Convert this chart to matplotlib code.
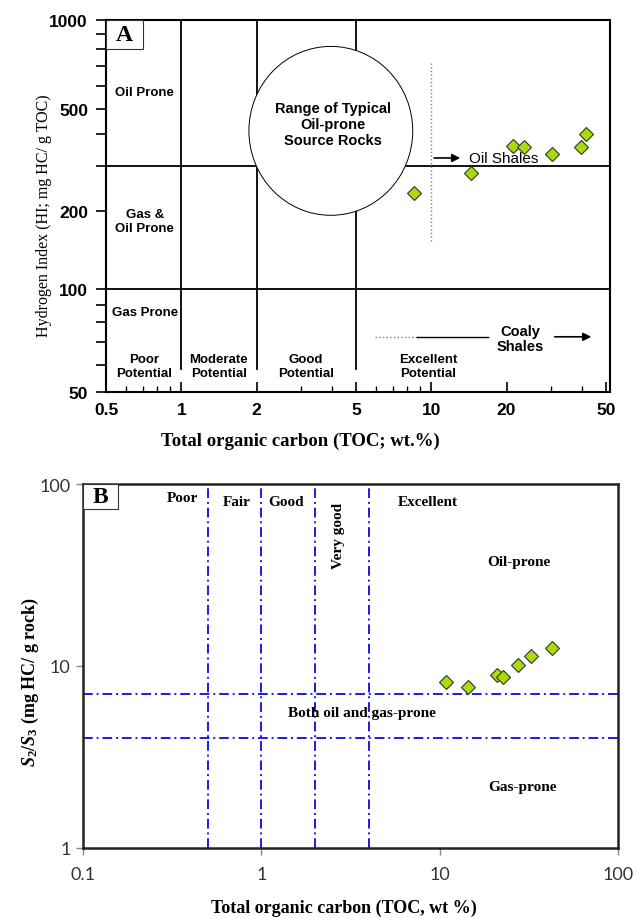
import matplotlib

matplotlib.use('Agg')
import matplotlib.pyplot as plt
import numpy as np
from matplotlib.patches import Ellipse, Rectangle
from matplotlib.ticker import FixedLocator, NullFormatter, FuncFormatter

# panel A: HI vs TOC
toc_a = [8.5, 14.4, 21.3, 23.6, 30.4, 39.8, 41.5]
hi_a = [236, 281, 359, 355, 333, 354, 401]
a_xticks = [0.5, 1, 2, 5, 10, 20, 50]
a_yticks = [50, 100, 200, 500, 1000]

# panel B: S2/S3 vs TOC
toc_b = [10.8, 14.5, 20.9, 22.6, 27.4, 32.7, 42.7]
s2s3_b = [8.15, 7.65, 8.9, 8.68, 10.1, 11.3, 12.6]
b_xticks = [0.1, 1, 10, 100]
b_yticks = [1, 10, 100]
b_vlines = [0.5, 1, 2, 4]
b_hlines = [7, 4]

plt.rcParams['mathtext.fontset'] = 'custom'
plt.rcParams['mathtext.rm'] = 'Liberation Serif:bold'
plt.rcParams['mathtext.it'] = 'Liberation Serif:italic:bold'

SANS = 'Liberation Sans'
SERIF = 'Liberation Serif'
green = '#a8dc0e'

fig = plt.figure(figsize=(6.36, 9.2), dpi=100)

# ---------------- panel A ----------------
ax = fig.add_axes([0.1667, 0.5728, 0.7925, 0.4044])

# the printed HI axis is not evenly logarithmic, follow its spacing
hl = np.log10([50, 100, 200, 500, 1000])
hp = np.array([0, 103, 181, 283, 372]) / 372.0


def fwd(y):
    return np.interp(np.log10(np.clip(y, 1e-3, None)), hl, hp, left=-1, right=2)


def inv(v):
    return 10 ** np.interp(v, hp, hl)


ax.set_xscale('log')
ax.set_yscale('function', functions=(fwd, inv))
ax.set_xlim(0.5, 51.9)
ax.set_ylim(50, 1000)

ax.axhline(300, color='k', lw=1.3, zorder=1)
ax.axhline(100, color='k', lw=1.3, zorder=1)
for v in [1, 2, 5]:
    ax.axvline(v, ymin=0.062, ymax=1, color='k', lw=1.3, zorder=1)

ax.add_patch(Ellipse((0.446, 0.702), 0.325, 0.454, transform=ax.transAxes,
                     facecolor='white', edgecolor='k', lw=0.7, zorder=2))
ax.text(0.450, 0.72, 'Range of Typical\nOil-prone\nSource Rocks', transform=ax.transAxes,
        ha='center', va='center', fontsize=10.5, fontweight='bold', family=SANS,
        linespacing=1.2, zorder=3)

ax.axvline(10, ymin=0.406, ymax=0.890, color='grey', lw=1, ls=':', zorder=1)
ax.annotate('', xy=(13.4, 322), xytext=(10, 322),
            arrowprops=dict(arrowstyle='-|>', color='k', lw=1.2, mutation_scale=12))
ax.text(14.1, 322, 'Oil Shales', ha='left', va='center', fontsize=11, family=SANS, zorder=5)

ax.plot([5.95, 8.76], [72.5, 72.5], color='grey', lw=1, ls=':')
ax.plot([8.76, 16.8], [72.5, 72.5], color='k', lw=1)
ax.annotate('', xy=(44.8, 72.5), xytext=(30.4, 72.5),
            arrowprops=dict(arrowstyle='-|>', color='k', lw=1.2, mutation_scale=12))
ax.text(0.821, 0.145, 'Coaly\nShales', transform=ax.transAxes, ha='center', va='center',
        fontsize=10.5, fontweight='bold', family=SANS, linespacing=1.1)

labels_a = [
    ('Oil Prone', 0.077, 0.806),
    ('Gas &\nOil Prone', 0.077, 0.46),
    ('Gas Prone', 0.077, 0.215),
    ('Poor\nPotential', 0.075, 0.070),
    ('Moderate\nPotential', 0.224, 0.070),
    ('Good\nPotential', 0.397, 0.070),
    ('Excellent\nPotential', 0.639, 0.070),
]
for s, x, y in labels_a:
    ax.text(x, y, s, transform=ax.transAxes, ha='center', va='center', fontsize=9.5,
            fontweight='bold', family=SANS, linespacing=1.15)

ax.plot(toc_a, hi_a, 'D', ms=7, mfc=green, mec='#333333', mew=0.8, zorder=6)

ax.add_patch(Rectangle((0, 0.922), 0.073, 0.078, transform=ax.transAxes,
                       facecolor='white', edgecolor='#333333', lw=0.8, zorder=7))
ax.text(0.0365, 0.961, 'A', transform=ax.transAxes, ha='center', va='center',
        fontsize=17, fontweight='bold', family=SERIF, zorder=8)

ax.xaxis.set_major_locator(FixedLocator(a_xticks))
ax.xaxis.set_major_formatter(FuncFormatter(lambda v, p: '%g' % v))
ax.xaxis.set_minor_locator(FixedLocator([0.6, 0.7, 0.8, 0.9, 3, 4, 6, 7, 8, 9, 30, 40]))
ax.xaxis.set_minor_formatter(NullFormatter())
ax.yaxis.set_major_locator(FixedLocator(a_yticks))
ax.yaxis.set_major_formatter(FuncFormatter(lambda v, p: '%g' % v))
ax.yaxis.set_minor_locator(FixedLocator([60, 70, 80, 90, 300, 400, 600, 700, 800, 900]))
ax.yaxis.set_minor_formatter(NullFormatter())
ax.tick_params(axis='x', which='major', direction='in', length=7, width=1.2, pad=7)
ax.tick_params(axis='x', which='minor', direction='in', length=4, width=1)
ax.tick_params(axis='y', which='both', direction='out', length=7, width=1.2, pad=6)
for t in ax.get_xticklabels() + ax.get_yticklabels():
    t.set_fontfamily(SANS)
    t.set_fontweight('bold')
    t.set_fontsize(12.5)
for sp in ax.spines.values():
    sp.set_linewidth(1.5)

ax.set_xlabel('Total organic carbon (TOC; wt.%)', family=SERIF, fontweight='bold', fontsize=13.5)
ax.xaxis.set_label_coords(0.385, -0.106)
ax.set_ylabel('Hydrogen Index (HI; mg HC/ g TOC)', family=SERIF, fontsize=11.5)
ax.yaxis.set_label_coords(-0.108, 0.476)

# ---------------- panel B ----------------
bx = fig.add_axes([0.1305, 0.0772, 0.8412, 0.3956])
bx.set_xscale('log')
bx.set_yscale('log')
bx.set_xlim(0.1, 100)
bx.set_ylim(1, 100)

blue = '#1a1ae6'
for v in b_vlines:
    bx.axvline(v, color=blue, lw=1.4, ls=(0, (5, 2, 1, 2)), zorder=1)
for h in b_hlines:
    bx.axhline(h, color=blue, lw=1.4, ls=(0, (5, 2, 1, 2)), zorder=1)

labels_b = [
    ('Poor', 0.185, 0.964, 0),
    ('Fair', 0.288, 0.951, 0),
    ('Good', 0.379, 0.951, 0),
    ('Very good', 0.477, 0.860, 90),
    ('Excellent', 0.645, 0.951, 0),
    ('Oil-prone', 0.815, 0.786, 0),
    ('Both oil and gas-prone', 0.521, 0.371, 0),
    ('Gas-prone', 0.821, 0.168, 0),
]
for s, x, y, r in labels_b:
    bx.text(x, y, s, transform=bx.transAxes, ha='center', va='center', fontsize=11,
            fontweight='bold', family=SERIF, rotation=r)

bx.plot(toc_b, s2s3_b, 'D', ms=7, mfc=green, mec='#333333', mew=0.8, zorder=6)

bx.add_patch(Rectangle((0, 0.931), 0.065, 0.069, transform=bx.transAxes,
                       facecolor='white', edgecolor='#333333', lw=0.8, zorder=7))
bx.text(0.0325, 0.9655, 'B', transform=bx.transAxes, ha='center', va='center',
        fontsize=17, fontweight='bold', family=SERIF, zorder=8)

bx.xaxis.set_major_locator(FixedLocator(b_xticks))
bx.xaxis.set_major_formatter(FuncFormatter(lambda v, p: '%g' % v))
bx.xaxis.set_minor_locator(FixedLocator([]))
bx.yaxis.set_major_locator(FixedLocator(b_yticks))
bx.yaxis.set_major_formatter(FuncFormatter(lambda v, p: '%g' % v))
bx.yaxis.set_minor_locator(FixedLocator([]))
bx.tick_params(axis='both', direction='out', length=5, width=1, color='#888888', pad=4)
bx.tick_params(axis='x', pad=8)
for t in bx.get_xticklabels() + bx.get_yticklabels():
    t.set_fontfamily('Lato')
    t.set_fontsize(13)
    t.set_color('#333333')
for sp in bx.spines.values():
    sp.set_linewidth(1.8)
    sp.set_color('#222222')

bx.set_xlabel('Total organic carbon (TOC, wt %)', family=SERIF, fontweight='bold', fontsize=13)
bx.xaxis.set_label_coords(0.488, -0.138)
bx.set_ylabel(r'$\mathit{S}_2/\mathit{S}_3$ (mg HC/ g rock)', family=SERIF,
              fontweight='bold', fontsize=13)
bx.yaxis.set_label_coords(-0.078, 0.459)

fig.savefig('out.png', dpi=100)
